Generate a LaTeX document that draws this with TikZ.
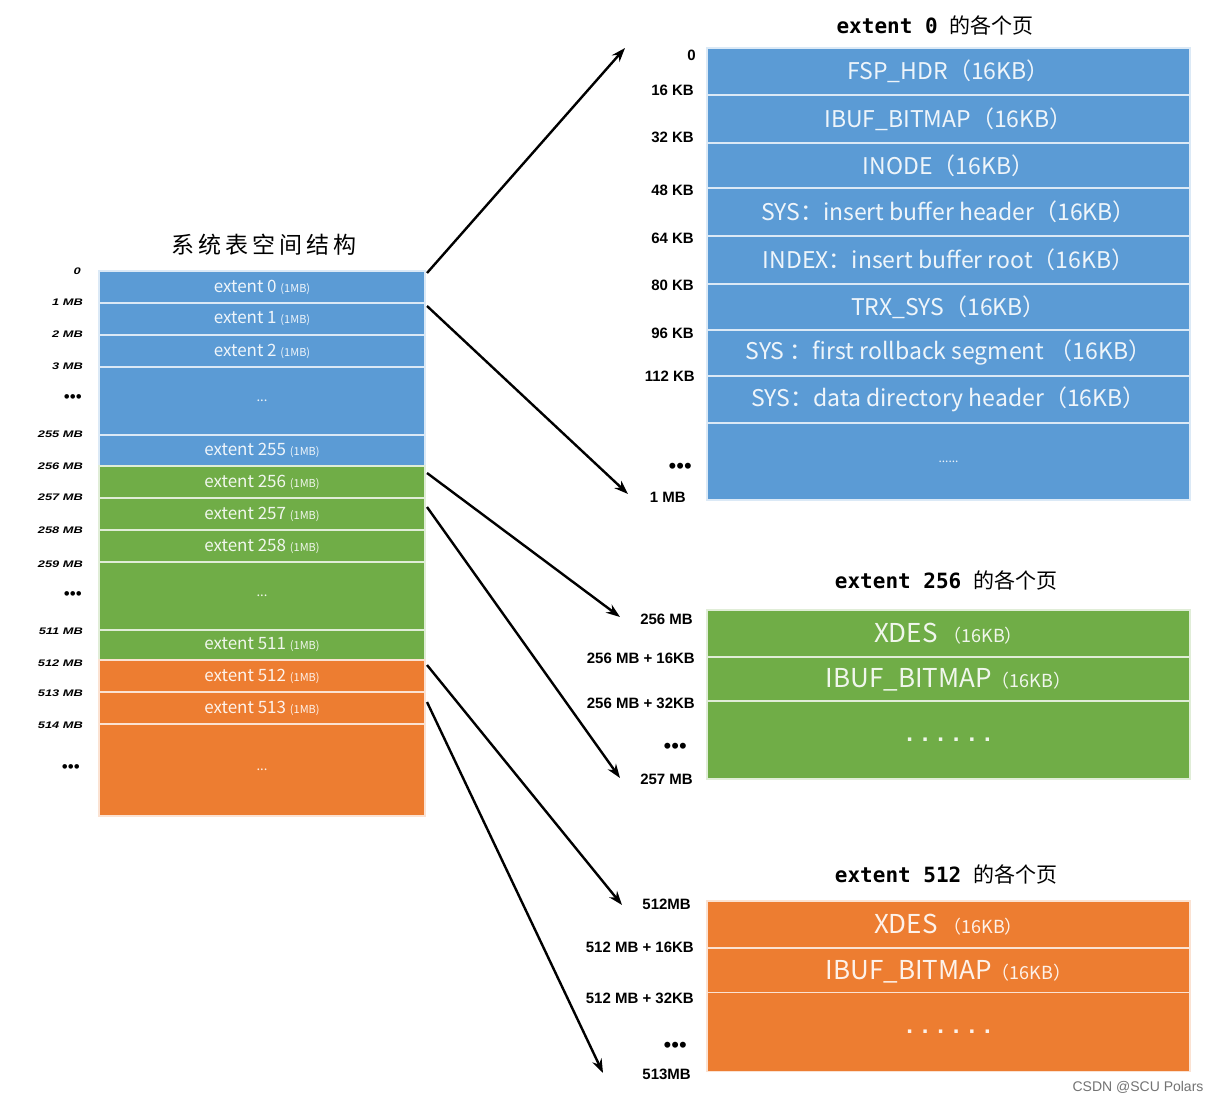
\documentclass[tikz,border=0pt]{standalone}
\usepackage{fontspec}
\setmainfont{Liberation Sans}
\newfontfamily\cjk{Noto Sans CJK SC}
\newfontfamily\cjktitle{Noto Sans CJK SC}[LetterSpace=17]
\newfontfamily\mono{DejaVu Sans Mono}
\usetikzlibrary{arrows.meta}
\definecolor{cblue}{HTML}{5B9BD5}
\definecolor{cgreen}{HTML}{70AD47}
\definecolor{corange}{HTML}{ED7D31}
\tikzset{
  box/.style={rectangle, inner sep=0pt, outer sep=0pt, fill=#1, draw=white!78!#1, line width=1.3pt, text=white, text opacity=0.9},
  lrow/.style={box=#1, minimum width=326pt, font={\cjk\fontsize{17}{17}\selectfont}},
  rrow/.style={box=#1, minimum width=483pt, font={\cjk\fontsize{23}{23}\selectfont}},
  llab/.style={anchor=east, inner sep=0pt, font={\bfseries\itshape\fontsize{9.5}{9.5}\selectfont}},
  rlab/.style={anchor=east, inner sep=0pt, font={\bfseries\fontsize{15}{15}\selectfont}},
  ttl/.style={inner sep=0pt, font={\fontsize{21}{21}\selectfont}},
  arr/.style={-{Stealth[length=14pt,width=10pt]}, line width=2.4pt, black},
}
\newcommand{\mb}{{\fontsize{11}{11}\selectfont (1MB)}}
\newcommand{\sk}{{\fontsize{18}{18}\selectfont （16KB）}}
\newcommand{\wide}[1]{\scalebox{1.35}[1]{#1}}
\begin{document}
\begin{tikzpicture}[x=1pt,y=-1pt]
\useasboundingbox (0,0) rectangle (1222,1103);
\fill[white] (0,0) rectangle (1222,1103);

% left title
\node[inner sep=0pt, font={\cjktitle\fontsize{23}{23}\selectfont}] (ltitle) at (264,245) {系统表空间结构};

% left column
\node[lrow=cblue, minimum height=32pt] (e0) at (262,287) {extent 0 \mb};
\node[lrow=cblue, minimum height=32pt] (e1) at (262,319) {extent 1 \mb};
\node[lrow=cblue, minimum height=32pt] (e2) at (262,351) {extent 2 \mb};
\node[lrow=cblue, minimum height=68pt] (ed1) at (262,401) {\fontsize{13}{13}\selectfont ...};
\node[lrow=cblue, minimum height=31pt] (e255) at (262,450.5) {extent 255 \mb};
\node[lrow=cgreen, minimum height=32pt] (e256) at (262,482) {extent 256 \mb};
\node[lrow=cgreen, minimum height=32pt] (e257) at (262,514) {extent 257 \mb};
\node[lrow=cgreen, minimum height=32pt] (e258) at (262,546) {extent 258 \mb};
\node[lrow=cgreen, minimum height=68pt] (ed2) at (262,596) {\fontsize{13}{13}\selectfont ...};
\node[lrow=cgreen, minimum height=30pt] (e511) at (262,645) {extent 511 \mb};
\node[lrow=corange, minimum height=32pt] (e512) at (262,676) {extent 512 \mb};
\node[lrow=corange, minimum height=32pt] (e513) at (262,708) {extent 513 \mb};
\node[lrow=corange, minimum height=92pt] (ed3) at (262,770) {\fontsize{13}{13}\selectfont ...};

% left labels
\node[llab] (l0) at (81,271) {\wide{0}};
\node[llab] (l1) at (83,302) {\wide{1 MB}};
\node[llab] (l2) at (83,334) {\wide{2 MB}};
\node[llab] (l3) at (83,366) {\wide{3 MB}};
\node[llab, font={\fontsize{17}{17}\selectfont}] (l4) at (82,399) {•••};
\node[llab] (l5) at (83,434) {\wide{255 MB}};
\node[llab] (l6) at (83,466) {\wide{256 MB}};
\node[llab] (l7) at (83,497) {\wide{257 MB}};
\node[llab] (l8) at (83,530) {\wide{258 MB}};
\node[llab] (l9) at (83,564) {\wide{259 MB}};
\node[llab, font={\fontsize{17}{17}\selectfont}] (l10) at (82,596) {•••};
\node[llab] (l11) at (83,631) {\wide{511 MB}};
\node[llab] (l12) at (83,663) {\wide{512 MB}};
\node[llab] (l13) at (83,693) {\wide{513 MB}};
\node[llab] (l14) at (83,725) {\wide{514 MB}};
\node[llab, font={\fontsize{17}{17}\selectfont}] (l15) at (80,769) {•••};

% extent 0 pages
\node[ttl] (t0) at (935,25) {{\mono\bfseries extent\ 0}\ \ {\cjk 的各个页}};
\node[rrow=cblue, minimum height=47pt] (r0) at (948.5,71.5) {FSP\_HDR（16KB）};
\node[rrow=cblue, minimum height=48pt] (r1) at (948.5,119) {IBUF\_BITMAP（16KB）};
\node[rrow=cblue, minimum height=45pt] (r2) at (948.5,165.5) {INODE（16KB）};
\node[rrow=cblue, minimum height=48pt] (r3) at (948.5,212) {SYS：insert buffer header（16KB）};
\node[rrow=cblue, minimum height=48pt] (r4) at (948.5,260) {INDEX：insert buffer root（16KB）};
\node[rrow=cblue, minimum height=46pt] (r5) at (948.5,307) {TRX\_SYS（16KB）};
\node[rrow=cblue, minimum height=46pt] (r6) at (948.5,353) {SYS\ ：first rollback segment\ （16KB）};
\node[rrow=cblue, minimum height=47pt] (r7) at (948.5,399.5) {SYS：data directory header（16KB）};
\node[rrow=cblue, minimum height=77pt] (r8) at (948.5,461.5) {\fontsize{12}{12}\selectfont ......};

\node[rlab] (k0) at (696,55) {0};
\node[rlab] (k1) at (694,90) {16 KB};
\node[rlab] (k2) at (694,137) {32 KB};
\node[rlab] (k3) at (694,190) {48 KB};
\node[rlab] (k4) at (694,238) {64 KB};
\node[rlab] (k5) at (694,285) {80 KB};
\node[rlab] (k6) at (694,333) {96 KB};
\node[rlab] (k7) at (695,376) {112 KB};
\node[rlab, font={\fontsize{22}{22}\selectfont}] (k8) at (692,468) {•••};
\node[rlab] (k9) at (686,497) {1 MB};

% extent 256 pages
\node[ttl] (t1) at (946,580) {{\mono\bfseries extent\ 256}\ \ {\cjk 的各个页}};
\node[rrow=cgreen, minimum height=47pt, font={\cjk\fontsize{26}{26}\selectfont}] (m0) at (948.5,633.5) {XDES\ \sk};
\node[rrow=cgreen, minimum height=46pt, font={\cjk\fontsize{26}{26}\selectfont}] (m1) at (948.5,680) {IBUF\_BITMAP\sk};
\node[rrow=cgreen, minimum height=78pt, font={\bfseries\fontsize{24}{24}\selectfont}] (m2) at (948.5,740) {. . . . . .};

\node[rlab] (n0) at (693,619) {256 MB};
\node[rlab] (n1) at (695,658) {256 MB + 16KB};
\node[rlab] (n2) at (695,703) {256 MB + 32KB};
\node[rlab, font={\fontsize{22}{22}\selectfont}] (n3) at (687,748) {•••};
\node[rlab] (n4) at (693,779) {257 MB};

% extent 512 pages
\node[ttl] (t2) at (946,874) {{\mono\bfseries extent\ 512}\ \ {\cjk 的各个页}};
\node[rrow=corange, minimum height=47pt, font={\cjk\fontsize{26}{26}\selectfont}] (b0) at (948.5,924.5) {XDES\ \sk};
\node[rrow=corange, minimum height=47pt, font={\cjk\fontsize{26}{26}\selectfont}] (b1) at (948.5,971.5) {IBUF\_BITMAP\sk};
\node[rrow=corange, minimum height=79pt, font={\bfseries\fontsize{24}{24}\selectfont}] (b2) at (948.5,1032) {. . . . . .};

\node[rlab] (p0) at (691,904) {512MB};
\node[rlab] (p1) at (694,947) {512 MB + 16KB};
\node[rlab] (p2) at (694,998) {512 MB + 32KB};
\node[rlab, font={\fontsize{22}{22}\selectfont}] (p3) at (687,1047) {•••};
\node[rlab] (p4) at (691,1074) {513MB};

% arrow ends
\coordinate (a0) at (625,48);
\coordinate (a1) at (628,494);
\coordinate (a2) at (620,617);
\coordinate (a3) at (620,778);
\coordinate (a4) at (622,905);
\coordinate (a5) at (603,1073);

\draw[arr] ([xshift=2pt,yshift=-2pt]e0.north east) -- (a0);
\draw[arr] ([xshift=2pt,yshift=-3pt]e1.north east) -- (a1);
\draw[arr] ([xshift=2pt,yshift=-7pt]e256.north east) -- (a2);
\draw[arr] ([xshift=2pt,yshift=-9pt]e257.north east) -- (a3);
\draw[arr] ([xshift=2pt,yshift=-5pt]e512.north east) -- (a4);
\draw[arr] ([xshift=2pt,yshift=-10pt]e513.north east) -- (a5);

% watermark
\node[inner sep=0pt, text=black!55, font={\fontsize{14}{14}\selectfont}] (wm) at (1138,1087) {CSDN @SCU Polars};
\end{tikzpicture}
\end{document}
